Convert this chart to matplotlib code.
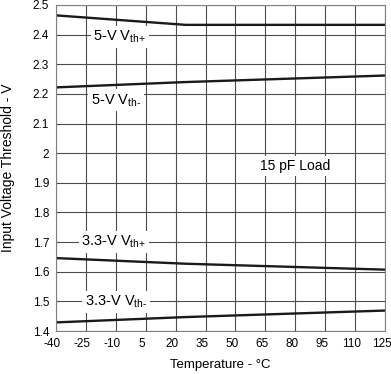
import matplotlib
matplotlib.use('Agg')
import matplotlib.pyplot as plt
import matplotlib.transforms as mtransforms

plt.rcParams['font.family'] = ['Liberation Sans', 'DejaVu Sans']
plt.rcParams['axes.unicode_minus'] = False
plt.rcParams['mathtext.fontset'] = 'custom'
plt.rcParams['mathtext.rm'] = 'Liberation Sans'
plt.rcParams['mathtext.default'] = 'regular'

temps = [-40, 25, 125]
vth_5_pos = [2.465, 2.433, 2.433]
vth_5_neg = [2.222, 2.240, 2.262]
vth_33_pos = [1.646, 1.627, 1.607]
vth_33_neg = [1.429, 1.447, 1.469]

xticks = [-40, -25, -10, 5, 20, 35, 50, 65, 80, 95, 110, 125]
yticks = [1.4, 1.5, 1.6, 1.7, 1.8, 1.9, 2.0, 2.1, 2.2, 2.3, 2.4, 2.5]
ytick_labels = ['1.4', '1.5', '1.6', '1.7', '1.8', '1.9', '2', '2.1', '2.2', '2.3', '2.4', '2.5']

fig = plt.figure(figsize=(3.91, 3.74), dpi=100)
ax = fig.add_axes([56 / 391, 1 - 331 / 374, 329 / 391, 326 / 374])

line_kw = dict(color='#1a1a1a', linewidth=1.7, solid_capstyle='butt')
ax.plot(temps, vth_5_pos, **line_kw)
ax.plot(temps, vth_5_neg, **line_kw)
ax.plot(temps, vth_33_pos, **line_kw)
ax.plot(temps, vth_33_neg, **line_kw)

ax.set_xlim(-40, 125)
ax.set_ylim(1.4, 2.5)
ax.set_xticks(xticks)
ax.set_yticks(yticks)
ax.set_yticklabels(ytick_labels)
ax.tick_params(length=0, labelsize=8.5, pad=5)
ax.grid(True, color='#4d4d4d', linewidth=0.8)
ax.set_axisbelow(True)
for s in ax.spines.values():
    s.set_color('#808080')
    s.set_linewidth(0.8)

# x tick labels sit a little left of their grid lines in the original
shift = mtransforms.ScaledTranslation(-3.5 / 100, 0, fig.dpi_scale_trans)
for lbl in ax.get_xticklabels():
    lbl.set_transform(lbl.get_transform() + shift)

box = dict(facecolor='white', edgecolor='none', pad=2)
ax.text(-8, 2.392, r'5-V V$_{\text{th+}}$', fontsize=10.5, ha='center', va='center', bbox=box)
ax.text(-10, 2.178, r'5-V V$_{\text{th-}}$', fontsize=10.5, ha='center', va='center', bbox=box)
ax.text(80, 1.956, '15 pF Load', fontsize=10, ha='center', va='center', bbox=box)
ax.text(-11, 1.700, r'3.3-V V$_{\text{th+}}$', fontsize=10.5, ha='center', va='center', bbox=box)
ax.text(-10, 1.498, r'3.3-V V$_{\text{th-}}$', fontsize=10.5, ha='center', va='center', bbox=box)

ax.set_xlabel('Temperature - °C', fontsize=9.5)
ax.xaxis.set_label_coords(0.5, -(359 - 331) / 326)
ax.set_ylabel('Input Voltage Threshold - V', fontsize=10)
ax.yaxis.set_label_coords(-(56 - 15) / 329, 0.5)

fig.savefig('out.png', dpi=100)
